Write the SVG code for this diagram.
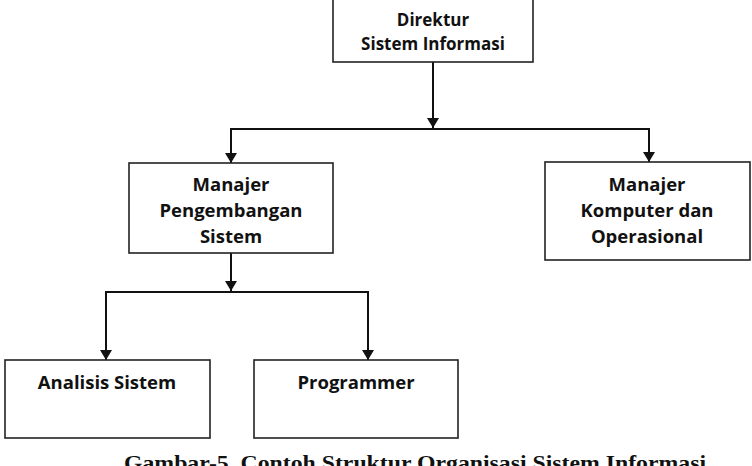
<svg xmlns="http://www.w3.org/2000/svg" width="752" height="466" viewBox="0 0 752 466">
<defs>
<style>
.box{fill:#fff;stroke:#222;stroke-width:1.6}
.ln{fill:none;stroke:#111;stroke-width:2}
.t{font-family:"Open Sans","Liberation Sans",sans-serif;font-weight:bold;font-size:18.5px;fill:#111;text-anchor:middle}
.ts{font-size:17px}
.cap{font-family:"Liberation Serif","Times New Roman",serif;font-weight:bold;font-size:22px;fill:#111}
</style>
<marker id="ah" viewBox="0 0 10 12" refX="10" refY="6" markerWidth="10" markerHeight="12" markerUnits="userSpaceOnUse" orient="auto">
<path d="M0,0 L10,6 L0,12 Z" fill="#111"/>
</marker>
</defs>
<rect width="752" height="466" fill="#fff"/>
<g id="connectors">
<line class="ln" x1="433" y1="62" x2="433" y2="128" marker-end="url(#ah)"/>
<line class="ln" x1="231" y1="129" x2="649" y2="129"/>
<line class="ln" x1="231" y1="128" x2="231" y2="163" marker-end="url(#ah)"/>
<line class="ln" x1="649" y1="128" x2="649" y2="162" marker-end="url(#ah)"/>
<line class="ln" x1="231" y1="253" x2="231" y2="291" marker-end="url(#ah)"/>
<line class="ln" x1="106" y1="292" x2="368" y2="292"/>
<line class="ln" x1="106" y1="291" x2="106" y2="360" marker-end="url(#ah)"/>
<line class="ln" x1="368" y1="291" x2="368" y2="360" marker-end="url(#ah)"/>
</g>
<g id="direktur">
<rect class="box" x="333" y="-2" width="200" height="64"/>
<text class="t ts" x="433" y="26">Direktur</text>
<text class="t ts" x="433" y="50">Sistem Informasi</text>
</g>
<g id="manajer-pengembangan">
<rect class="box" x="129" y="163" width="204" height="90"/>
<text class="t" x="231" y="191">Manajer</text>
<text class="t" x="231" y="217">Pengembangan</text>
<text class="t" x="231" y="243">Sistem</text>
</g>
<g id="manajer-komputer">
<rect class="box" x="545" y="162" width="205" height="98"/>
<text class="t" x="647" y="191">Manajer</text>
<text class="t" x="647" y="217">Komputer dan</text>
<text class="t" x="647" y="243">Operasional</text>
</g>
<g id="analisis-sistem">
<rect class="box" x="5" y="360" width="205" height="78"/>
<text class="t" x="107" y="389">Analisis Sistem</text>
</g>
<g id="programmer">
<rect class="box" x="254" y="360" width="204" height="78"/>
<text class="t" x="356" y="389">Programmer</text>
</g>
<text class="cap" x="124" y="470" textLength="582" lengthAdjust="spacingAndGlyphs">Gambar-5. Contoh Struktur Organisasi Sistem Informasi</text>
</svg>
